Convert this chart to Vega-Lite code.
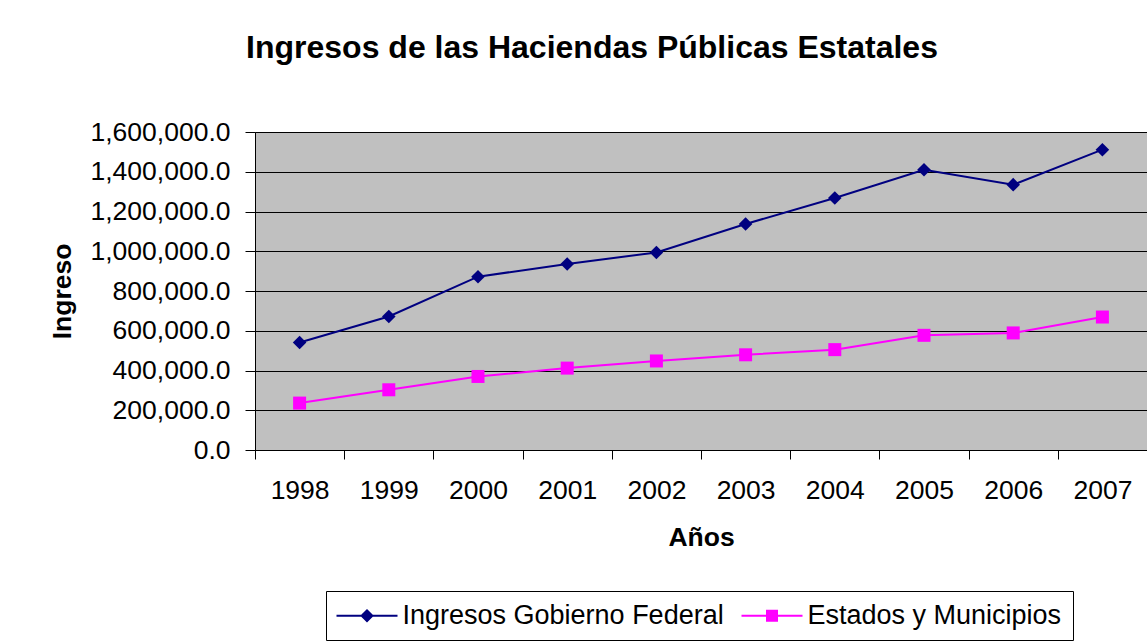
{
  "$schema": "https://vega.github.io/schema/vega-lite/v6.json",
  "autosize": {"type": "none"},
  "padding": {"left": 255, "top": 132, "right": 0, "bottom": 192},
  "width": 892,
  "height": 318,
  "background": "#FFFFFF",
  "title": {
    "text": "Ingresos de las Haciendas Públicas Estatales",
    "font": "Liberation Sans",
    "fontSize": 32,
    "fontWeight": "bold",
    "color": "#000000",
    "anchor": "middle",
    "frame": "group",
    "dx": -109,
    "baseline": "alphabetic",
    "offset": 29
  },
  "data": {
    "values": [
      {"year": "1998", "series": "Ingresos Gobierno Federal", "value": 541000},
      {"year": "1999", "series": "Ingresos Gobierno Federal", "value": 672000},
      {"year": "2000", "series": "Ingresos Gobierno Federal", "value": 872000},
      {"year": "2001", "series": "Ingresos Gobierno Federal", "value": 936000},
      {"year": "2002", "series": "Ingresos Gobierno Federal", "value": 994000},
      {"year": "2003", "series": "Ingresos Gobierno Federal", "value": 1137000},
      {"year": "2004", "series": "Ingresos Gobierno Federal", "value": 1268000},
      {"year": "2005", "series": "Ingresos Gobierno Federal", "value": 1410000},
      {"year": "2006", "series": "Ingresos Gobierno Federal", "value": 1335000},
      {"year": "2007", "series": "Ingresos Gobierno Federal", "value": 1511000},
      {"year": "1998", "series": "Estados y Municipios", "value": 236000},
      {"year": "1999", "series": "Estados y Municipios", "value": 303000},
      {"year": "2000", "series": "Estados y Municipios", "value": 370000},
      {"year": "2001", "series": "Estados y Municipios", "value": 412000},
      {"year": "2002", "series": "Estados y Municipios", "value": 448000},
      {"year": "2003", "series": "Estados y Municipios", "value": 479000},
      {"year": "2004", "series": "Estados y Municipios", "value": 505000},
      {"year": "2005", "series": "Estados y Municipios", "value": 577000},
      {"year": "2006", "series": "Estados y Municipios", "value": 589000},
      {"year": "2007", "series": "Estados y Municipios", "value": 669000}
    ]
  },
  "encoding": {
    "x": {
      "field": "year",
      "type": "ordinal",
      "bandPosition": 0.5,
      "scale": {"type": "band", "paddingInner": 0, "paddingOuter": 0},
      "axis": {
        "title": "Años",
        "labelAngle": 0,
        "tickBand": "extent",
        "tickSize": 9,
        "labelPadding": 18,
        "titlePadding": 21,
        "grid": false
      }
    },
    "y": {
      "field": "value",
      "type": "quantitative",
      "scale": {"domain": [0, 1600000], "nice": false, "zero": true},
      "axis": {
        "title": "Ingreso",
        "values": [0, 200000, 400000, 600000, 800000, 1000000, 1200000, 1400000, 1600000],
        "format": ",.1f",
        "tickSize": 10,
        "labelPadding": 15,
        "titlePadding": 14,
        "grid": true
      }
    }
  },
  "layer": [
    {
      "transform": [{"filter": "datum.series === 'Ingresos Gobierno Federal'"}],
      "mark": {"type": "line", "strokeWidth": 2, "color": "#000080"},
      "encoding": {}
    },
    {
      "transform": [{"filter": "datum.series === 'Estados y Municipios'"}],
      "mark": {"type": "line", "strokeWidth": 2, "color": "#FF00FF"},
      "encoding": {}
    },
    {
      "transform": [{"filter": "datum.series === 'Ingresos Gobierno Federal'"}],
      "mark": {"type": "point", "shape": "diamond", "filled": true, "opacity": 1, "strokeWidth": 0, "size": 185, "color": "#000080"}
    },
    {
      "transform": [{"filter": "datum.series === 'Estados y Municipios'"}],
      "mark": {"type": "point", "shape": "square", "filled": true, "opacity": 1, "strokeWidth": 0, "size": 169, "color": "#FF00FF"}
    },
    {
      "mark": {"type": "point", "filled": true, "opacity": 0},
      "encoding": {
        "color": {
          "field": "series",
          "type": "nominal",
          "scale": {
            "domain": ["Ingresos Gobierno Federal", "Estados y Municipios"],
            "range": ["#000080", "#FF00FF"]
          },
          "legend": {
            "title": null,
            "orient": "none",
            "direction": "horizontal",
            "legendX": 71,
            "legendY": 459,
            "padding": 11,
            "strokeColor": "#000000",
            "fillColor": "#FFFFFF",
            "labelFont": "Liberation Sans",
            "labelFontSize": 27,
            "labelColor": "#000000",
            "labelLimit": 600,
            "symbolSize": 400,
            "symbolStrokeWidth": 0,
            "symbolOpacity": 1,
            "symbolOffset": 16.5,
            "labelOffset": 22,
            "columnPadding": 17
          }
        },
        "shape": {
          "field": "series",
          "type": "nominal",
          "scale": {
            "domain": ["Ingresos Gobierno Federal", "Estados y Municipios"],
            "range": [
              "M-3.05,-0.1H3.05V0.1H-3.05ZM0,-0.68L0.68,0L0,0.68L-0.68,0Z",
              "M-3.05,-0.1H3.05V0.1H-3.05ZM-0.6,-0.6H0.6V0.6H-0.6Z"
            ]
          },
          "legend": {
            "title": null,
            "orient": "none",
            "direction": "horizontal",
            "legendX": 71,
            "legendY": 459,
            "padding": 11,
            "strokeColor": "#000000",
            "fillColor": "#FFFFFF",
            "labelFont": "Liberation Sans",
            "labelFontSize": 27,
            "labelColor": "#000000",
            "labelLimit": 600,
            "symbolSize": 400,
            "symbolStrokeWidth": 0,
            "symbolOpacity": 1,
            "symbolOffset": 16.5,
            "labelOffset": 22,
            "columnPadding": 17
          }
        }
      }
    }
  ],
  "config": {
    "font": "Liberation Sans",
    "view": {"fill": "#C0C0C0", "stroke": "#808080"},
    "axis": {
      "domainColor": "#000000",
      "tickColor": "#000000",
      "gridColor": "#000000",
      "gridOpacity": 1,
      "labelColor": "#000000",
      "labelFont": "Liberation Sans",
      "labelFontSize": 26.5,
      "titleColor": "#000000",
      "titleFont": "Liberation Sans",
      "titleFontSize": 26.5,
      "titleFontWeight": "bold",
      "labelOverlap": false
    }
  }
}
